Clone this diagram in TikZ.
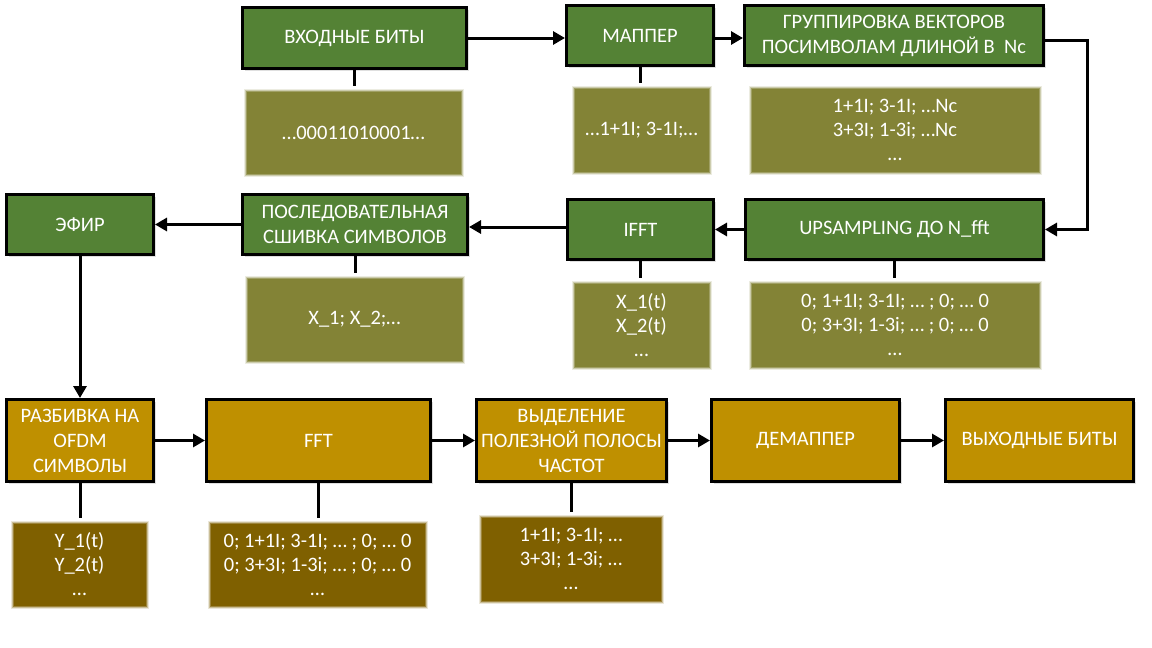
\documentclass[tikz,border=0pt]{standalone}
\usepackage{fontspec}
\setmainfont{Carlito}
\usetikzlibrary{arrows.meta,shadows}
\definecolor{gbox}{HTML}{548235}
\definecolor{olv}{HTML}{838336}
\definecolor{gold}{HTML}{BF9000}
\definecolor{dgold}{HTML}{7F6000}
\tikzset{
  txt/.style={text=white, align=center, inner sep=0pt, font=\fontsize{20.5}{25}\selectfont},
  blk/.style={txt, draw=black, line width=3pt,
    drop shadow={shadow xshift=2pt, shadow yshift=-2pt, opacity=0.25}},
  gblk/.style={blk, fill=gbox},
  yblk/.style={blk, fill=gold},
  soft/.style={txt, fill=#1, font=\fontsize{20.5}{24}\selectfont,
    preaction={draw=#1, draw opacity=0.15, line width=6pt},
    preaction={draw=#1, draw opacity=0.3, line width=4pt},
    preaction={draw=#1, draw opacity=0.6, line width=2pt}},
  arr/.style={line width=3pt, -{Triangle[length=12pt,width=13pt]}},
  stem/.style={line width=3pt, shorten >=5pt},
}
\begin{document}
\begin{tikzpicture}[x=1pt,y=-1pt]
\fill[white] (0,0) rectangle (1152,648);
\useasboundingbox (0,0) rectangle (1152,648);

% row 1
\node[gblk, minimum width=224pt, minimum height=61pt] (inb) at (354.5,38) {ВХОДНЫЕ БИТЫ};
\node[gblk, minimum width=147pt, minimum height=60pt] (map) at (640,35.5) {МАППЕР};
\node[gblk, minimum width=299pt, minimum height=60pt] (grp) at (894,35.5) {ГРУППИРОВКА ВЕКТОРОВ\\ПОСИМВОЛАМ ДЛИНОЙ В~ Nc};

\node[soft=olv, minimum width=214pt, minimum height=82pt] (din) at (353.5,132.5) {…00011010001…};
\node[soft=olv, minimum width=134pt, minimum height=83pt] (dmap) at (641.5,130) {…1+1I; 3-1I;…};
\node[soft=olv, minimum width=287pt, minimum height=83pt] (dgrp) at (895,130) {1+1I; 3-1I; …Nc\\3+3I; 1-3i; …Nc\\…};

% row 2
\node[gblk, minimum width=147pt, minimum height=60pt] (air) at (80,224.5) {ЭФИР};
\node[gblk, minimum width=225pt, minimum height=60pt] (seq) at (355,224.5) {ПОСЛЕДОВАТЕЛЬНАЯ\\СШИВКА СИМВОЛОВ};
\node[gblk, minimum width=146pt, minimum height=60pt] (ifft) at (640.5,229.5) {IFFT};
\node[gblk, minimum width=298pt, minimum height=60pt] (ups) at (894.5,229.5) {UPSAMPLING ДО N\_fft};

\node[soft=olv, minimum width=214pt, minimum height=82pt] (dseq) at (354.5,319.5) {X\_1; X\_2;…};
\node[soft=olv, minimum width=134pt, minimum height=83pt] (difft) at (641.5,325) {X\_1(t)\\X\_2(t)\\…};
\node[soft=olv, minimum width=287pt, minimum height=83pt] (dups) at (895,325) {0; 1+1I; 3-1I; … ; 0; … 0\\0; 3+3I; 1-3i; … ; 0; … 0\\…};

% row 3
\node[yblk, minimum width=147pt, minimum height=82pt] (split) at (80,440.5) {РАЗБИВКА НА\\OFDM\\СИМВОЛЫ};
\node[yblk, minimum width=224pt, minimum height=82pt] (fft) at (318.5,440.5) {FFT};
\node[yblk, minimum width=190pt, minimum height=82pt] (sel) at (571.5,440.5) {ВЫДЕЛЕНИЕ\\ПОЛЕЗНОЙ ПОЛОСЫ\\ЧАСТОТ};
\node[yblk, minimum width=188pt, minimum height=82pt] (demap) at (805.5,440.5) {ДЕМАППЕР};
\node[yblk, minimum width=188pt, minimum height=82pt] (outb) at (1039.5,440.5) {ВЫХОДНЫЕ БИТЫ};

\node[soft=dgold, minimum width=132pt, minimum height=82pt] (dsplit) at (79.5,564.5) {Y\_1(t)\\Y\_2(t)\\…};
\node[soft=dgold, minimum width=214pt, minimum height=82pt] (dfft) at (317.5,564.5) {0; 1+1I; 3-1I; … ; 0; … 0\\0; 3+3I; 1-3i; … ; 0; … 0\\…};
\node[soft=dgold, minimum width=179pt, minimum height=83pt] (dsel) at (571,559) {1+1I; 3-1I; …\\3+3I; 1-3i; …\\…};

% connectors
\coordinate (rt) at (1087,0);
\draw[arr] (inb.east) -- (inb.east -| map.west);
\draw[arr] ([yshift=-2.5pt]map.east) -- ([yshift=-2.5pt]map.east -| grp.west);
\draw[arr] ([yshift=-4.5pt]grp.east) -- ([yshift=-4.5pt]grp.east -| rt) -- (rt |- ups.east) -- (ups.east);
\draw[arr] (ups.west) -- (ups.west -| ifft.east);
\draw[arr] ([yshift=2.5pt]ifft.west) -- ([yshift=2.5pt]ifft.west -| seq.east);
\draw[arr] (seq.west) -- (seq.west -| air.east);
\draw[arr] (air.south) -- (air.south |- split.north);
\draw[arr] (split.east) -- (split.east -| fft.west);
\draw[arr] (fft.east) -- (fft.east -| sel.west);
\draw[arr] (sel.east) -- (sel.east -| demap.west);
\draw[arr] (demap.east) -- (demap.east -| outb.west);

% stems
\draw[stem] (inb.south) -- (inb.south |- din.north);
\draw[stem] (map.south) -- (map.south |- dmap.north);
\draw[stem] (seq.south) -- (seq.south |- dseq.north);
\draw[stem] (ifft.south) -- (ifft.south |- difft.north);
\draw[stem] (ups.south) -- (ups.south |- dups.north);
\draw[stem] (split.south) -- (split.south |- dsplit.north);
\draw[stem] (fft.south) -- (fft.south |- dfft.north);
\draw[stem] (sel.south) -- (sel.south |- dsel.north);
\end{tikzpicture}
\end{document}
